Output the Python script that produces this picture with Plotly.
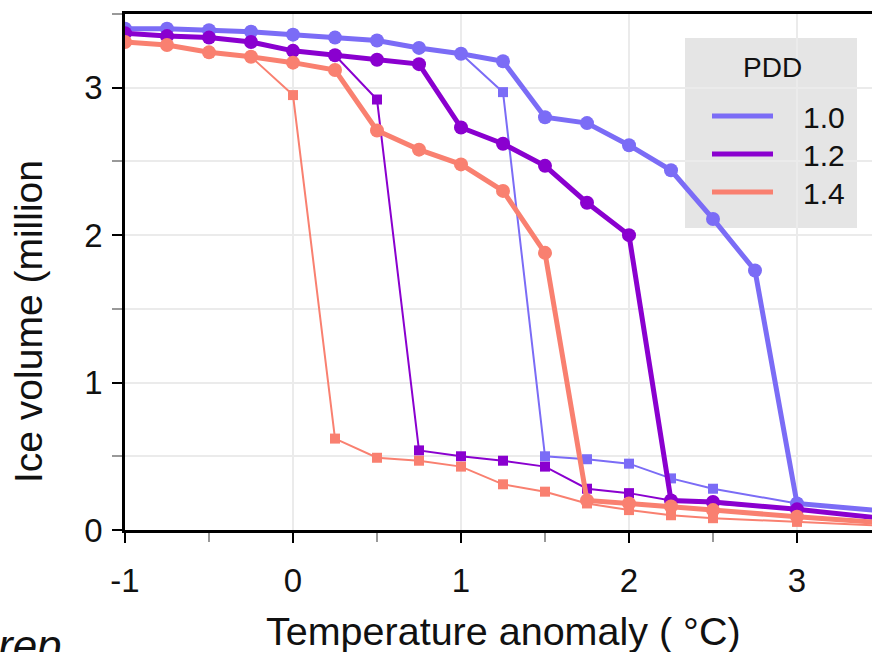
import plotly.graph_objects as go

# ---- data ----
temp = [-1, -0.75, -0.5, -0.25, 0, 0.25, 0.5, 0.75, 1.0, 1.25, 1.5, 1.75, 2.0, 2.25, 2.5, 2.75, 3.0, 3.5]

pdd10_thick = [3.40, 3.40, 3.39, 3.38, 3.36, 3.34, 3.32, 3.27, 3.23, 3.18, 2.80, 2.76, 2.61, 2.44, 2.11, 1.76, 0.18, 0.13]
pdd10_thin = [3.40, 3.40, 3.39, 3.38, 3.36, 3.34, 3.32, 3.27, 3.23, 2.97, 0.50, 0.48, 0.45, 0.35, 0.28, None, 0.18, 0.13]
pdd12_thick = [3.37, 3.35, 3.34, 3.31, 3.25, 3.22, 3.19, 3.16, 2.73, 2.62, 2.47, 2.22, 2.00, 0.20, 0.19, None, 0.14, 0.08]
pdd12_thin = [3.37, 3.35, 3.34, 3.31, 3.25, 3.22, 2.92, 0.54, 0.50, 0.47, 0.43, 0.28, 0.25, 0.20, 0.18, None, 0.14, 0.08]
pdd14_thick = [3.31, 3.29, 3.24, 3.21, 3.17, 3.12, 2.71, 2.58, 2.48, 2.30, 1.88, 0.20, 0.18, 0.16, 0.135, None, 0.09, 0.05]
pdd14_thin = [3.31, 3.29, 3.24, 3.21, 2.95, 0.62, 0.49, 0.47, 0.43, 0.31, 0.26, 0.18, 0.135, 0.10, 0.08, None, 0.055, 0.03]

pdd_labels = ["1.0", "1.2", "1.4"]
colors = ["#7B6CF6", "#8A00CF", "#F98070"]

x_ticks = [-1, 0, 1, 2, 3]
y_ticks = [0, 1, 2, 3]

FONT = "Liberation Sans, Arial, Helvetica, sans-serif"

# plot area in pixels (for converting annotation placement to paper coords)
L, R, T, B = 125, 872, 14, 530


def px(xp):
    return (xp - L) / (R - L)


def py(yp):
    return (B - yp) / (B - T)


fig = go.Figure()

thin = [pdd10_thin, pdd12_thin, pdd14_thin]
thick = [pdd10_thick, pdd12_thick, pdd14_thick]

for ys, c in zip(thin, colors):
    fig.add_trace(go.Scatter(x=temp, y=ys, mode="lines+markers", connectgaps=True,
                             line=dict(color=c, width=2),
                             marker=dict(symbol="square", size=10, color=c),
                             showlegend=False))
for ys, c in zip(thick, colors):
    fig.add_trace(go.Scatter(x=temp, y=ys, mode="lines+markers", connectgaps=True,
                             line=dict(color=c, width=5),
                             marker=dict(symbol="circle", size=14, color=c),
                             showlegend=False))

# legend entries (lines only), one legend per entry for precise spacing
legend_names = ["legend", "legend2", "legend3"]
legend_centers = [116, 154, 192]
NB = "\u00a0"
for lab, c, lg in zip(pdd_labels, colors, legend_names):
    fig.add_trace(go.Scatter(x=[None], y=[None], mode="lines", name=NB * 3 + lab,
                             legend=lg, line=dict(color=c, width=5)))

legend_common = dict(xanchor="left", yanchor="middle", bgcolor="rgba(0,0,0,0)",
                     borderwidth=0, itemwidth=61,
                     font=dict(size=30, family=FONT, color="#111111"))
legend_layouts = {}
for lg, yc in zip(legend_names, legend_centers):
    legend_layouts[lg] = dict(x=px(707), y=py(yc), **legend_common)

fig.update_layout(
    width=872, height=652,
    margin=dict(l=L, r=872 - R, t=T, b=652 - B),
    paper_bgcolor="white", plot_bgcolor="white",
    font=dict(family=FONT, size=32, color="#111111"),
    showlegend=True,
    **legend_layouts,
    xaxis=dict(range=[-1, 3.4464], tickvals=x_ticks, ticktext=[str(v) for v in x_ticks],
               showgrid=True, gridcolor="#EBEBEB", gridwidth=1.5,
               ticks="outside", ticklen=10, tickwidth=2, tickcolor="black",
               showline=True, linecolor="black", linewidth=2.5, mirror=True,
               zeroline=False, ticklabelstandoff=10,
               tickfont=dict(size=33, family=FONT),
               minor=dict(dtick=0.5, tick0=0, ticks="outside", ticklen=9, tickwidth=1.5,
                          tickcolor="#999999", showgrid=False)),
    yaxis=dict(range=[0, 3.5], tickvals=y_ticks,
               showgrid=True, gridcolor="#EBEBEB", gridwidth=1.5,
               ticks="outside", ticklen=10, tickwidth=2, tickcolor="black",
               showline=True, linecolor="black", linewidth=2.5, mirror=False,
               zeroline=False, ticklabelstandoff=3,
               tickfont=dict(size=33, family=FONT),
               minor=dict(dtick=0.5, tick0=0, ticks="outside", ticklen=10, tickwidth=1.5,
                          tickcolor="#999999", showgrid=True, gridcolor="#EBEBEB", gridwidth=1.5)),
    shapes=[
        dict(type="rect", xref="paper", yref="paper", x0=px(685), x1=px(857),
             y0=py(228), y1=py(38), fillcolor="#E5E5E5", line=dict(width=0),
             layer="between"),
    ],
    annotations=[
        dict(text="PDD", xref="paper", yref="paper", x=px(772), y=py(68),
             xanchor="center", yanchor="middle", showarrow=False,
             font=dict(size=28, family=FONT, color="#111111")),
        dict(text="Ice volume (million", textangle=-90, xref="paper", yref="paper",
             x=px(28), y=py(322), xanchor="center", yanchor="middle",
             showarrow=False, font=dict(size=39, family=FONT, color="#111111")),
        dict(text="Temperature anomaly ( °C)", xref="paper", yref="paper",
             x=px(503), y=py(631), xanchor="center", yanchor="middle",
             showarrow=False, font=dict(size=39.5, family=FONT, color="#111111")),
        dict(text="<i>rep</i>", xref="paper", yref="paper",
             x=px(-4), y=py(645), xanchor="left", yanchor="middle",
             showarrow=False, font=dict(size=44, family=FONT, color="#111111")),
    ],
)

fig.write_html("out.html", config={"displayModeBar": False},
               post_script="document.body.style.margin='0px';")
